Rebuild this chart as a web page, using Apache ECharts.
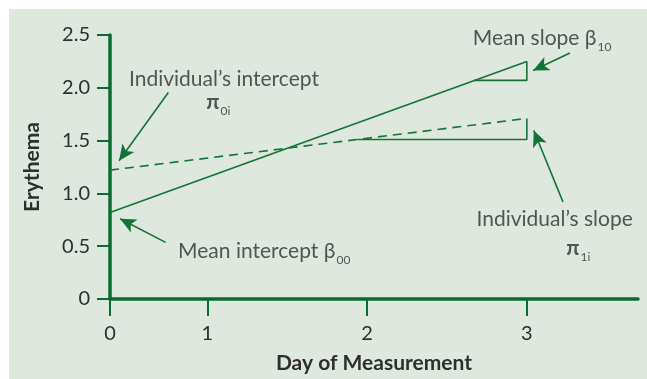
<!DOCTYPE html>
<html>
<head>
<meta charset="utf-8">
<script src="https://cdn.jsdelivr.net/npm/echarts@6/dist/echarts.min.js"></script>
<style>
html,body{margin:0;padding:0;background:#fff;}
#chart{width:647px;height:379px;}
</style>
</head>
<body>
<div id="chart"></div>
<script>
// ---- data ----
const days = [0, 3];
const meanTrajectory = [0.82, 2.25];
const individualTrajectory = [1.22, 1.71];
const meanSlopeTriangleX = [2.62, 3, 3];
const meanSlopeTriangleY = [2.07, 2.07, 2.25];
const indivSlopeTriangleX = [1.78, 3, 3];
const indivSlopeTriangleY = [1.51, 1.51, 1.71];
const xTickValues = [0, 0.70, 1.85, 3];
const xTickLabels = ['0', '1', '2', '3'];
const yTickLabels = ['0', '0.5', '1.0', '1.5', '2.0', '2.5'];

const GREEN = '#137437';
const AXIS = '#0b6a2e';
const TEXT = '#2e2e2e';
const FONT = 'Lato, "Open Sans", sans-serif';

function pairs(xs, ys) { return xs.map((x, i) => [x, ys[i]]); }

const arrows = [
  [[0.42, 1.955], [0.065, 1.31]],
  [[0.40, 0.536], [0.072, 0.76]],
  [[3.31, 2.33], [3.045, 2.163]],
  [[3.26, 0.92], [3.05, 1.595]]
];

const rich = {
  t: { fontSize: 21, color: TEXT, fontFamily: FONT, lineHeight: 24 },
  g: { fontSize: 21, color: TEXT, fontFamily: FONT, lineHeight: 24 },
  p: { fontSize: 21, color: TEXT, fontFamily: FONT, fontWeight: 'bold', lineHeight: 24 },
  s: { fontSize: 12, color: TEXT, fontFamily: FONT, lineHeight: 12, padding: [17, 0, 0, 1] }
};

const notes = [
  { value: [0.82, 2.08], text: '{t|Individual\u2019s intercept}' },
  { value: [0.78, 1.86], text: '{p|\u03c0}{s|0i}' },
  { value: [3.11, 2.47], text: '{t|Mean slope }{g|\u03b2}{s|10}' },
  { value: [3.2, 0.76], text: '{t|Individual\u2019s slope}' },
  { value: [3.37, 0.48], text: '{p|\u03c0}{s|1i}' },
  { value: [1.11, 0.45], text: '{t|Mean intercept }{g|\u03b2}{s|00}' }
];

const chart = echarts.init(document.getElementById('chart'), null, { renderer: 'canvas' });
chart.setOption({
  animation: false,
  backgroundColor: '#ffffff',
  graphic: [{
    type: 'rect', left: 9, top: 9, z: -10,
    shape: { width: 638, height: 370 },
    style: { fill: '#dfe8de' }
  }],
  grid: { left: 110, right: 9, top: 35, bottom: 78 },
  xAxis: {
    type: 'value', min: 0, max: 3.8,
    name: 'Day of Measurement', nameLocation: 'middle', nameGap: 54,
    nameTextStyle: { fontSize: 21, fontWeight: 'bold', color: TEXT, fontFamily: FONT },
    axisLine: { show: true, lineStyle: { color: AXIS, width: 3.5 } },
    axisTick: { show: true, customValues: xTickValues, length: 17, lineStyle: { color: AXIS, width: 2 } },
    axisLabel: {
      customValues: xTickValues, margin: 25, fontSize: 20, color: TEXT, fontFamily: FONT,
      formatter: v => xTickLabels[xTickValues.indexOf(v)]
    },
    splitLine: { show: false }
  },
  yAxis: {
    type: 'value', min: 0, max: 2.5, interval: 0.5,
    name: 'Erythema', nameLocation: 'middle', nameGap: 67,
    nameTextStyle: { fontSize: 21, fontWeight: 'bold', color: TEXT, fontFamily: FONT },
    axisLine: { show: true, lineStyle: { color: AXIS, width: 3.5 } },
    axisTick: { show: true, length: 13, lineStyle: { color: AXIS, width: 2 } },
    axisLabel: {
      margin: 20, fontSize: 20, color: TEXT, fontFamily: FONT,
      formatter: v => yTickLabels[Math.round(v / 0.5)]
    },
    splitLine: { show: false }
  },
  series: [
    {
      name: 'Mean trajectory', type: 'line', data: pairs(days, meanTrajectory),
      symbol: 'none', lineStyle: { color: GREEN, width: 1.6 }, z: 3
    },
    {
      name: 'Individual trajectory', type: 'line', data: pairs(days, individualTrajectory),
      symbol: 'none', lineStyle: { color: GREEN, width: 1.6, type: [9, 6] }, z: 3
    },
    {
      name: 'Mean slope', type: 'line', data: pairs(meanSlopeTriangleX, meanSlopeTriangleY),
      symbol: 'none', lineStyle: { color: GREEN, width: 1.6 }, z: 3
    },
    {
      name: 'Individual slope', type: 'line', data: pairs(indivSlopeTriangleX, indivSlopeTriangleY),
      symbol: 'none', lineStyle: { color: GREEN, width: 1.6 }, z: 3
    },
    {
      name: 'arrows', type: 'line', data: [], symbol: 'none',
      markLine: {
        silent: true, symbol: ['none', 'arrow'], symbolSize: [11, 16],
        lineStyle: { color: GREEN, width: 1.6, type: 'solid' },
        itemStyle: { color: GREEN },
        label: { show: false },
        data: arrows.map(a => [{ coord: a[0] }, { coord: a[1] }])
      }
    },
    {
      name: 'notes', type: 'scatter', symbolSize: 0, silent: true,
      data: notes.map(n => ({ value: n.value, text: n.text })),
      label: {
        show: true, position: 'inside', align: 'center', verticalAlign: 'middle',
        formatter: p => p.data.text, rich: rich
      },
      z: 5
    }
  ]
});
</script>
</body>
</html>
